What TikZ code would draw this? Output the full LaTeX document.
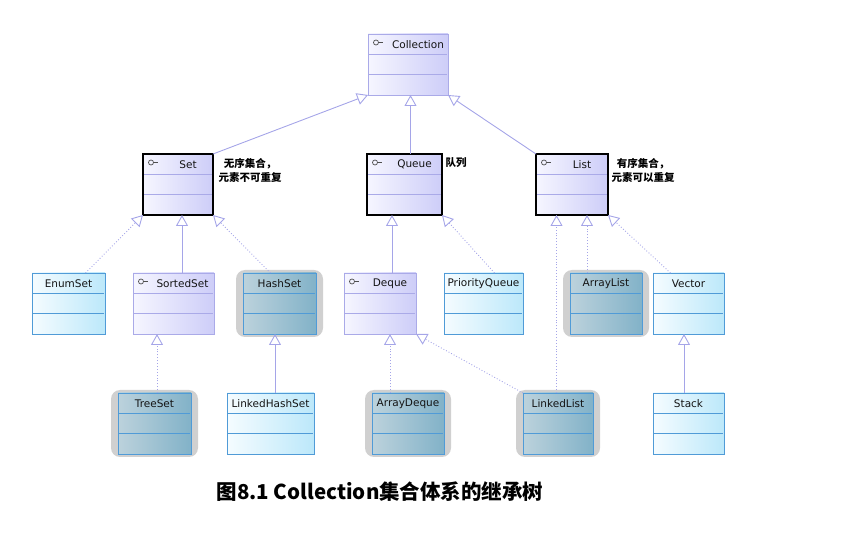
\documentclass[tikz,border=0pt]{standalone}
\usepackage{fontspec}
\setmainfont{DejaVu Sans}
\newfontfamily\cjk{Noto Sans CJK SC}
\usetikzlibrary{arrows.meta,backgrounds}
\definecolor{lav}{RGB}{165,165,232}
\definecolor{ifborder}{RGB}{170,170,232}
\definecolor{ifL}{RGB}{246,246,255}
\definecolor{ifR}{RGB}{205,205,248}
\definecolor{clsborder}{RGB}{80,155,215}
\definecolor{clsL}{RGB}{245,252,255}
\definecolor{clsR}{RGB}{188,232,250}
\definecolor{grL}{RGB}{188,210,220}
\definecolor{grR}{RGB}{130,178,200}
\definecolor{shad}{RGB}{208,208,208}
\definecolor{txt}{RGB}{20,20,20}
\tikzset{
  umlbase/.style={anchor=north west, minimum height=61pt, inner sep=0pt, outer sep=0pt},
  iface/.style={umlbase, draw=ifborder, line width=0.9pt, left color=ifL, right color=ifR},
  ifacebold/.style={umlbase, draw=black, line width=2.6pt, left color=ifL, right color=ifR},
  cls/.style={umlbase, draw=clsborder, line width=0.9pt, left color=clsL, right color=clsR},
  gcls/.style={umlbase, draw=clsborder, line width=0.9pt, left color=grL, right color=grR},
  lbl/.style={inner sep=0pt, text=txt, font=\fontsize{10.5}{12}\selectfont},
  note/.style={inner sep=0pt, align=center, text=black, font=\cjk\bfseries\fontsize{10.5}{13.5}\selectfont},
  ext/.style={draw=lav, line width=0.9pt, -{Triangle[open, length=11pt, width=12pt]}},
  impl/.style={ext, dotted},
  shadowbg/.style={fill=shad, rounded corners=9pt},
  keyicon/.style={draw=txt!75, line width=0.7pt}
}
% #1 label xshift, #2 name, #3 x, #4 y, #5 width, #6 style, #7 row colour, #8 label
\newcommand{\umlbox}[8][0]{%
  \node[#6, minimum width=#5pt] (#2) at (#3,#4) {};
  \draw[#7, line width=0.9pt] ([shift={(1.2pt,-20.5pt)}]#2.north west) -- ([shift={(-1.2pt,-20.5pt)}]#2.north east);
  \draw[#7, line width=0.9pt] ([shift={(1.2pt,-40.5pt)}]#2.north west) -- ([shift={(-1.2pt,-40.5pt)}]#2.north east);
  \node[lbl] (#2-t) at ([shift={(#1pt,-10.5pt)}]#2.north) {#8};
}
\newcommand{\keymark}[1]{%
  \draw[keyicon] ([shift={(8pt,-8.5pt)}]#1.north west) circle (2.5pt);
  \draw[keyicon] ([shift={(10.5pt,-8.5pt)}]#1.north west) -- ([shift={(15pt,-8.5pt)}]#1.north west);
}
\begin{document}
\begin{tikzpicture}[x=1pt,y=-1pt]
\useasboundingbox (0,0) rectangle (844,534);
% interfaces
\umlbox[10]{coll}{368}{34}{80}{iface}{ifborder}{Collection}
\keymark{coll}
\umlbox[10]{set}{143}{154}{70}{ifacebold}{ifborder}{Set}
\keymark{set}
\umlbox[10]{queue}{367}{154}{75}{ifacebold}{ifborder}{Queue}
\keymark{queue}
\umlbox[10]{list}{536}{154}{72}{ifacebold}{ifborder}{List}
\keymark{list}
\umlbox[9]{sortedset}{133}{273}{81}{iface}{ifborder}{SortedSet}
\keymark{sortedset}
\umlbox[10]{deque}{344}{273}{72}{iface}{ifborder}{Deque}
\keymark{deque}
% classes
\umlbox{enumset}{32}{273}{73}{cls}{clsborder}{EnumSet}
\umlbox{hashset}{243}{273}{73}{gcls}{clsborder}{HashSet}
\umlbox{pq}{444}{273}{79}{cls}{clsborder}{PriorityQueue}
\umlbox{arraylist}{570}{273}{72}{gcls}{clsborder}{ArrayList}
\umlbox{vector}{653}{273}{71}{cls}{clsborder}{Vector}
\umlbox{treeset}{118}{393}{73}{gcls}{clsborder}{TreeSet}
\umlbox{lhs}{227}{393}{87}{cls}{clsborder}{LinkedHashSet}
\umlbox{arraydeque}{372}{393}{72}{gcls}{clsborder}{ArrayDeque}
\umlbox{linkedlist}{523}{393}{70}{gcls}{clsborder}{LinkedList}
\umlbox{stack}{653}{393}{71}{cls}{clsborder}{Stack}
% grey rounded backgrounds
\begin{pgfonlayer}{background}
  \foreach \n in {hashset,arraylist,treeset,arraydeque,linkedlist}{
    \fill[shadowbg] ([shift={(-7pt,3pt)}]\n.north west) rectangle ([shift={(7pt,-3pt)}]\n.south east);
  }
\end{pgfonlayer}
% connectors
\draw[ext] (set.north east) -- (coll.south west);
\draw[ext] ([xshift=6pt]queue.north) -- ([xshift=6pt]queue.north |- coll.south);
\draw[ext] (list.north west) -- (coll.south east);
\draw[impl] ([xshift=17pt]enumset.north) -- (set.south west);
\draw[ext] ([xshift=8.5pt]sortedset.north) -- ([xshift=8.5pt]sortedset.north |- set.south);
\draw[impl] ([xshift=-9pt]hashset.north) -- (set.south east);
\draw[ext] ([xshift=12pt]deque.north) -- ([xshift=12pt]deque.north |- queue.south);
\draw[impl] ([xshift=11pt]pq.north) -- (queue.south east);
\draw[impl] ([xshift=-19pt]arraylist.north) -- ([xshift=-19pt]arraylist.north |- list.south);
\draw[impl] ([xshift=-1.5pt]linkedlist.north) -- ([xshift=-1.5pt]linkedlist.north |- list.south);
\draw[impl] ([xshift=-18pt]vector.north) -- (list.south east);
\draw[impl] ([xshift=2.5pt]treeset.north) -- ([xshift=2.5pt]treeset.north |- sortedset.south);
\draw[ext] ([xshift=4.5pt]lhs.north) -- ([xshift=4.5pt]lhs.north |- hashset.south);
\draw[impl] ([xshift=-18pt]arraydeque.north) -- ([xshift=-18pt]arraydeque.north |- deque.south);
\draw[impl] (linkedlist.north west) -- (deque.south east);
\draw[ext] ([xshift=-4.5pt]stack.north) -- ([xshift=-4.5pt]stack.north |- vector.south);
% notes
\node[note] (n1) at (250,170.5) {无序集合，\\元素不可重复};
\node[note] (n2) at (456,163) {队列};
\node[note] (n3) at (643,170.5) {有序集合，\\元素可以重复};
% caption
\node[inner sep=0pt] (cap) at (380,492) {\cjk\bfseries\fontsize{20.5}{24}\selectfont 图8.1 Collection集合体系的继承树};
\end{tikzpicture}
\end{document}
